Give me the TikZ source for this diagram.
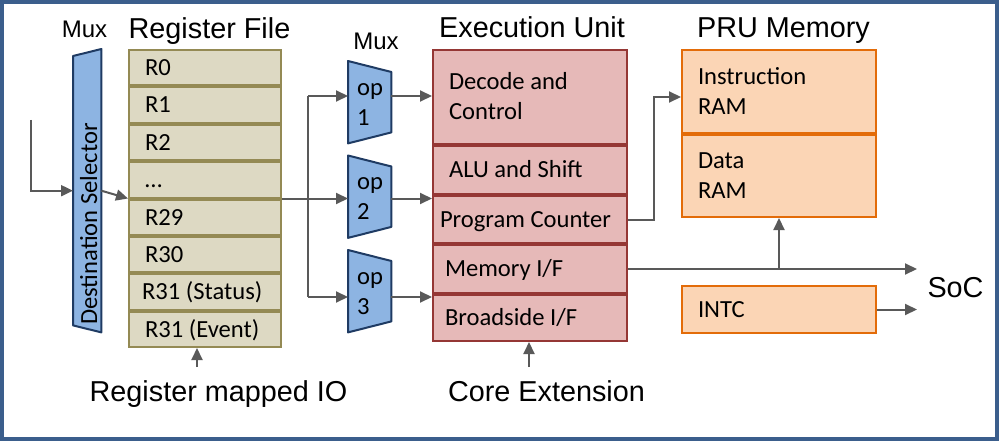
\documentclass[tikz,border=0pt]{standalone}
\usepackage{fontspec}
\setmainfont{Carlito}
\newfontfamily\headfont{Liberation Sans}
\usetikzlibrary{arrows.meta,calc}

\definecolor{muxfill}{HTML}{8DB4E2}
\definecolor{muxline}{HTML}{1F3B63}
\definecolor{regfill}{HTML}{DDD9C3}
\definecolor{regline}{HTML}{948A54}
\definecolor{exfill}{HTML}{E6B9B8}
\definecolor{exline}{HTML}{953735}
\definecolor{memfill}{HTML}{FBD5B5}
\definecolor{memline}{HTML}{E36C09}
\definecolor{wiregray}{HTML}{595959}
\definecolor{framecol}{HTML}{3B5E8C}

\tikzset{
  heading/.style={font=\headfont\fontsize{28.8}{32}\selectfont, anchor=base, inner sep=0pt},
  muxhead/.style={font=\headfont\fontsize{24}{28}\selectfont, anchor=base, inner sep=0pt},
  cell/.style={draw, line width=2pt, anchor=north west, inner ysep=0pt, inner xsep=16pt,
    align=flush left, text height=15.8pt, text depth=0pt, font=\fontsize{24.6}{30}\selectfont},
  regcell/.style={cell, fill=regfill, draw=regline, minimum width=152pt,
    text width=120pt, minimum height=35.375pt},
  excell/.style={cell, fill=exfill, draw=exline, minimum width=194pt, text width=162pt},
  memcell/.style={cell, fill=memfill, draw=memline, minimum width=194pt, text width=162pt},
  muxbox/.style={minimum width=43pt, minimum height=82pt, anchor=north west, inner sep=0pt},
  muxshape/.style={fill=muxfill, draw=muxline, line width=2pt, line join=round},
  muxlabel/.style={inner sep=0pt, align=flush left, text width=25pt, text height=16pt,
    text depth=30pt, font=\fontsize{24.6}{30}\selectfont},
  link/.style={draw=wiregray, line width=2pt, -{Triangle[length=12pt,width=11pt]}},
  bus/.style={draw=wiregray, line width=2pt},
}

\begin{document}
\begin{tikzpicture}[x=1pt, y=-1pt]
  \useasboundingbox (0,0) rectangle (1003,441);
  \draw[framecol, line width=4pt] (2,2) rectangle (997,438.5);

  % destination selector mux
  \node[muxhead] (mux1) at (84.5,38) {Mux};
  \node[minimum width=28pt, minimum height=283pt, anchor=north west, inner sep=0pt] (dsel) at (73,49) {};
  \draw[muxshape] ($(dsel.north west)+(0,7)$) -- (dsel.north east) -- (dsel.south east)
    -- ($(dsel.south west)+(0,-7)$) -- cycle;
  \node[rotate=90, anchor=base west, inner sep=0pt, font=\fontsize{24.6}{30}\selectfont]
    (dseltxt) at (97,325) {Destination Selector};

  % register file
  \node[heading] (regtitle) at (209.5,39) {Register File};
  \node[regcell] (r0) at (128,49) {R0};
  \node[regcell] (r1) at (r0.south west) {R1};
  \node[regcell] (r2) at (r1.south west) {R2};
  \node[regcell] (rdots) at (r2.south west) {\ldots};
  \node[regcell] (r29) at (rdots.south west) {R29};
  \node[regcell] (r30) at (r29.south west) {R30};
  \node[regcell, inner xsep=13pt, text width=126pt] (r31s) at (r30.south west) {R31 (Status)};
  \node[regcell] (r31e) at (r31s.south west) {R31 (Event)};

  % operand muxes
  \node[muxhead] (mux2) at (376,50) {Mux};
  \node[muxbox] (op1) at (348,61) {};
  \node[muxbox] (op2) at (348,155.5) {};
  \node[muxbox] (op3) at (348,250) {};
  \foreach \m in {op1,op2,op3}
    \draw[muxshape] (\m.north west) -- ($(\m.north east)+(0,11)$)
      -- ($(\m.south east)+(0,-11)$) -- (\m.south west) -- cycle;
  \node[muxlabel] (op1txt) at (op1) {op\\1};
  \node[muxlabel] (op2txt) at (op2) {op\\2};
  \node[muxlabel] (op3txt) at (op3) {op\\3};

  % execution unit
  \node[heading] (extitle) at (532,38) {Execution Unit};
  \node[excell, minimum height=94pt, text depth=30pt] (dec) at (432,49) {Decode and\\Control};
  \node[excell, minimum height=48pt] (alu) at (dec.south west) {ALU and Shift};
  \node[excell, minimum height=47pt, inner xsep=7pt, text width=180pt] (pc) at (alu.south west) {Program Counter};
  \node[excell, minimum height=48pt, inner xsep=12pt, text width=170pt] (mif) at (pc.south west) {Memory I/F};
  \node[excell, minimum height=46pt, inner xsep=12pt, text width=170pt] (brd) at (mif.south west) {Broadside I/F};

  % PRU memory and INTC
  \node[heading] (memtitle) at (783.5,38) {PRU Memory};
  \node[memcell, minimum height=83pt, text depth=30pt] (imem) at (681,49) {Instruction\\RAM};
  \node[memcell, minimum height=82pt, text depth=30pt] (dmem) at (imem.south west) {Data\\RAM};
  \node[memcell, minimum height=47pt] (intc) at (681,285) {INTC};
  \node[heading] (soc) at (955.5,297) {SoC};

  % bottom inputs
  \node[heading] (rmio) at (218.5,401) {Register mapped IO};
  \node[heading] (cext) at (546.5,401) {Core Extension};

  % connectors
  \coordinate (din) at (31,120);
  \coordinate (sel1) at (308,96);
  \coordinate (sel3) at (308,297);
  \coordinate (rioin) at (197,367);
  \coordinate (cextin) at (529,367);

  \draw[link] (din) |- (dsel.west);
  \draw[link] (dsel.east) -- (r29.north west);
  \draw[link] (r29.north east) -- (r29.north east -| op2.west);
  \draw[bus] (sel1) -- (sel3);
  \draw[link] (sel1) -- (sel1 -| op1.west);
  \draw[link] (sel3) -- (sel3 -| op3.west);
  \draw[link] (sel1 -| op1.east) -- (sel1 -| dec.west);
  \draw[link] (r29.north east -| op2.east) -- (r29.north east -| pc.west);
  \draw[link] (sel3 -| op3.east) -- (sel3 -| brd.west);
  \draw[link] (pc.east) -- ++(26,0) |- ($(imem.west)+(0,5.5)$);
  \draw[link] (mif.east) -- (mif.east -| intc.east) -- ++(40,0);
  \draw[link] (mif.east -| dmem.south) -- (dmem.south);
  \draw[link] (intc.east) -- ++(40,0);
  \draw[link] (rioin) -- (rioin |- r31e.south);
  \draw[link] (cextin) -- (cextin |- brd.south);
\end{tikzpicture}
\end{document}
